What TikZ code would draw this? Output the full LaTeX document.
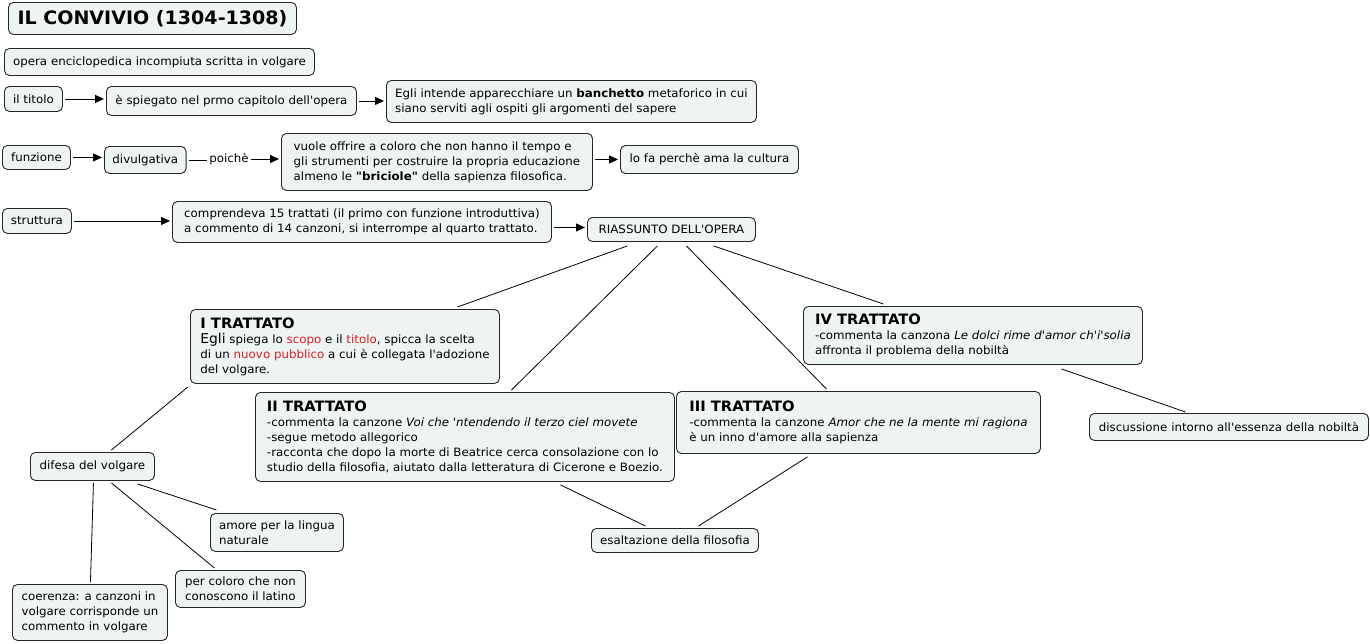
\documentclass[tikz,border=0pt]{standalone}
\usepackage{fontspec}
\newfontfamily\mapfont{DejaVu Sans}[FakeStretch=1.03]
\usetikzlibrary{arrows.meta,calc}
\definecolor{boxfill}{RGB}{238,243,244}
\definecolor{hilite}{RGB}{222,30,30}
\newcommand\tratthead[1]{{\bfseries\fontsize{14.3}{16}\selectfont #1}}
\begin{document}
\begin{tikzpicture}
  [x=1pt,y=-1pt,
  concept/.style={draw=black!85,line width=0.9pt,fill=boxfill,rounded corners=5pt,
    anchor=north west,inner xsep=8pt,inner ysep=2pt,align=left,
    font=\mapfont\fontsize{11.5}{15}\selectfont},
  link/.style={line width=0.8pt},
  arrow/.style={link,-{Triangle[length=9pt,width=8pt]},shorten <=2pt,shorten >=2pt}]
  \useasboundingbox (0,0) rectangle (1370,643);
  \node[concept,minimum width=288,minimum height=32,
    font=\mapfont\bfseries\fontsize{18.5}{20}\selectfont] (title) at (8,2) {IL CONVIVIO (1304-1308)};
  \node[concept,minimum width=310,minimum height=27] (opera) at (4,48)
    {opera enciclopedica incompiuta scritta in volgare};
  \node[concept,minimum width=58,minimum height=25] (titolo) at (4,86) {il titolo};
  \node[concept,minimum width=250,minimum height=29] (spiegato) at (106,86)
    {è spiegato nel prmo capitolo dell'opera};
  \node[concept,minimum width=370,minimum height=42] (banchetto) at (386,80)
    {Egli intende apparecchiare un \textbf{banchetto} metaforico in cui\\
    siano serviti agli ospiti gli argomenti del sapere};
  \node[concept,minimum width=68,minimum height=24] (funzione) at (2,145) {funzione};
  \node[concept,minimum width=81,minimum height=27] (divulgativa) at (104,146) {divulgativa};
  \node[font=\mapfont\fontsize{11.5}{15}\selectfont,inner sep=2pt] (poiche) at (229,159) {poichè};
  \node[concept,minimum width=311,minimum height=57] (briciole) at (281,133)
    {vuole offrire a coloro che non hanno il tempo e\\
    gli strumenti per costruire la propria educazione\\
    almeno le \textbf{"briciole"} della sapienza filosofica.};
  \node[concept,minimum width=178,minimum height=28] (cultura) at (620,145) {lo fa perchè ama la cultura};
  \node[concept,minimum width=69,minimum height=25] (struttura) at (2,208) {struttura};
  \node[concept,minimum width=379,minimum height=41] (trattati) at (172,201)
    {comprendeva 15 trattati (il primo con funzione introduttiva)\\
    a commento di 14 canzoni, si interrompe al quarto trattato.};
  \node[concept,minimum width=168,minimum height=24] (riassunto) at (587,217) {RIASSUNTO DELL'OPERA};
  \node[concept,minimum width=309,minimum height=74] (primo) at (190,309)
    {\tratthead{I TRATTATO}\\
    {\fontsize{13.5}{15}\selectfont Egli} spiega lo \textcolor{hilite}{scopo} e il
    \textcolor{hilite}{titolo}, spicca la scelta\\
    di un \textcolor{hilite}{nuovo pubblico} a cui è collegata l'adozione\\
    del volgare.};
  \node[concept,minimum width=419,minimum height=89] (secondo) at (255,392)
    {\tratthead{II TRATTATO}\\
    -commenta la canzone \textit{Voi che 'ntendendo il terzo ciel movete}\\
    -segue metodo allegorico\\
    -racconta che dopo la morte di Beatrice cerca consolazione con lo\\
    studio della filosofia, aiutato dalla letteratura di Cicerone e Boezio.};
  \node[concept,minimum width=364,minimum height=62] (terzo) at (676,391)
    {\tratthead{III TRATTATO}\\
    -commenta la canzone \textit{Amor che ne la mente mi ragiona}\\
    è un inno d'amore alla sapienza};
  \node[concept,minimum width=339,minimum height=58] (quarto) at (803,306)
    {\tratthead{IV TRATTATO}\\
    -commenta la canzona \textit{Le dolci rime d'amor ch'i'solia}\\
    affronta il problema della nobiltà};
  \node[concept,minimum width=279,minimum height=27] (nobilta) at (1089,413)
    {discussione intorno all'essenza della nobiltà};
  \node[concept,minimum width=124,minimum height=28] (difesa) at (30,452) {difesa del volgare};
  \node[concept,minimum width=133,minimum height=38] (lingua) at (210,513)
    {amore per la lingua\\naturale};
  \node[concept,minimum width=130,minimum height=37] (latino) at (175,570)
    {per coloro che non\\conoscono il latino};
  \node[concept,minimum width=155,minimum height=56] (coerenza) at (12,584)
    {coerenza: a canzoni in\\volgare corrisponde un\\commento in volgare};
  \node[concept,minimum width=167,minimum height=24] (filosofia) at (591,528) {esaltazione della filosofia};
  \coordinate (riassin) at ($(riassunto.west)+(0,-2)$);
  \draw[arrow] (titolo.east) -- (titolo.east -| spiegato.west);
  \draw[arrow] (spiegato.east) -- (spiegato.east -| banchetto.west);
  \draw[arrow] (funzione.east) -- (funzione.east -| divulgativa.west);
  \draw[link,shorten <=2pt] (divulgativa.east) -- (divulgativa.east -| poiche.west);
  \draw[arrow,shorten <=0pt] (poiche.east) -- (poiche.east -| briciole.west);
  \draw[arrow] (briciole.east |- cultura) -- (cultura.west);
  \draw[arrow] (struttura.east) -- (struttura.east -| trattati.west);
  \draw[arrow] (riassin -| trattati.east) -- (riassin);
  \draw[link] ($(riassunto.south)+(-44,4)$) -- ($(primo.north)+(112.5,-2)$);
  \draw[link] ($(riassunto.south)+(-14,4)$) -- ($(secondo.north)+(46.5,-2)$);
  \draw[link] ($(riassunto.south)+(15,4)$) -- ($(terzo.north)+(-32,-2)$);
  \draw[link] ($(riassunto.south)+(42,4)$) -- ($(quarto.north)+(-89.5,-2)$);
  \draw[link] ($(primo.south west)+(-2,3)$) -- ($(difesa.north)+(19,-2)$);
  \draw[link] ($(quarto.south)+(88.5,4)$) -- ($(nobilta.north)+(-43.5,-1)$);
  \draw[link] ($(secondo.south)+(95.5,3)$) -- ($(filosofia.north)+(-29.5,-2)$);
  \draw[link] ($(terzo.south)+(-51,3)$) -- ($(filosofia.north)+(23.5,-2)$);
  \draw[link] ($(difesa.south)+(1,2)$) -- ($(coerenza.north)+(0.5,-2)$);
  \draw[link] ($(difesa.south)+(19,2)$) -- ($(latino.north)+(-26,-2)$);
  \draw[link] ($(difesa.south)+(45,3)$) -- ($(lingua.north)+(-60.5,-3)$);
\end{tikzpicture}
\end{document}
